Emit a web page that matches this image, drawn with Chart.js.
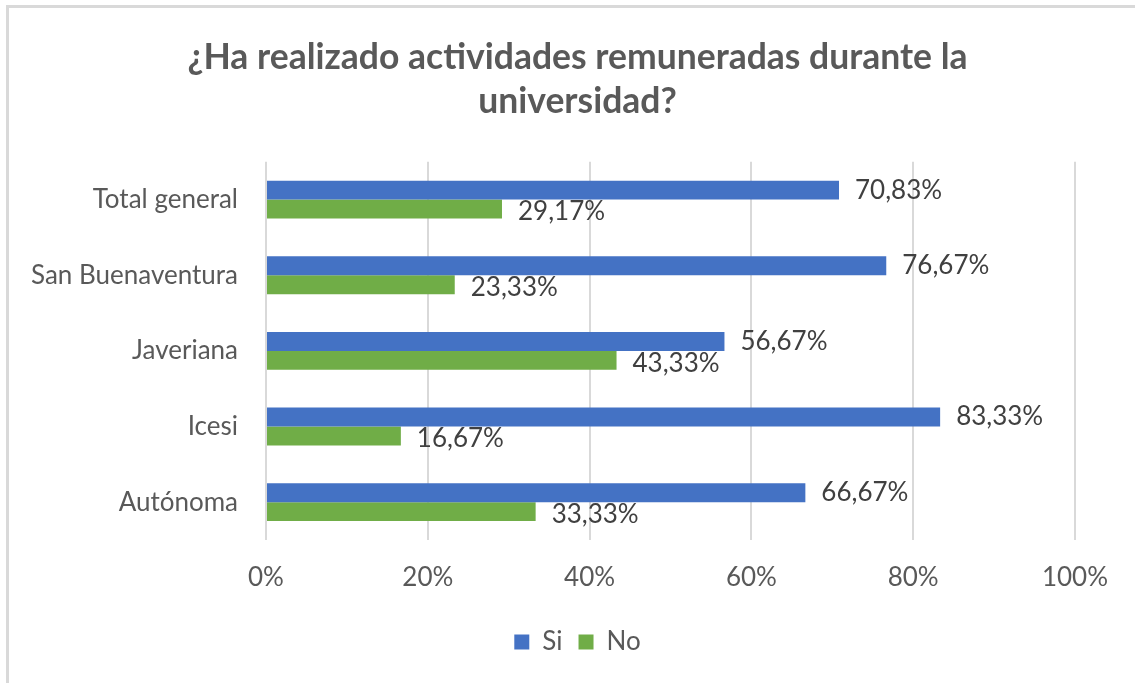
<!DOCTYPE html>
<html lang="es">
<head>
<meta charset="utf-8">
<title>Actividades remuneradas</title>
<script src="https://cdn.jsdelivr.net/npm/chart.js@4/dist/chart.umd.min.js"></script>
<style>
  html, body { margin: 0; padding: 0; background: #fff; }
  .wrap { position: absolute; left: 0; top: 0; width: 1135px; height: 683px; }
  .frame {
    position: absolute; left: 6px; top: 5px; right: 0; bottom: 0;
    border-left: 3px solid #d9d9d9; border-top: 3px solid #d9d9d9;
    pointer-events: none;
  }
</style>
</head>
<body>
<div class="wrap">
  <canvas id="chartRemuneradas" width="1135" height="683"></canvas>
  <div class="frame"></div>
</div>
<script>
// ── Datos ─────────────────────────────────────────
const universidades = ['Total general', 'San Buenaventura', 'Javeriana', 'Icesi', 'Autónoma'];
const valoresSi = [70.83, 76.67, 56.67, 83.33, 66.67];
const valoresNo = [29.17, 23.33, 43.33, 16.67, 33.33];
const ticksX = [0, 20, 40, 60, 80, 100];

const FONT = 'Lato, "Open Sans", sans-serif';
const fmtPct = v => v.toFixed(2).replace('.', ',') + '%';

// ── Etiquetas de datos (al final de cada barra) ───
const etiquetas = {
  id: 'etiquetas',
  afterDatasetsDraw(chart) {
    const ctx = chart.ctx;
    ctx.save();
    ctx.font = '26px ' + FONT;
    ctx.fillStyle = '#404040';
    ctx.textAlign = 'left';
    ctx.textBaseline = 'middle';
    chart.data.datasets.forEach((ds, i) => {
      const meta = chart.getDatasetMeta(i);
      meta.data.forEach((bar, j) => {
        const dy = i === 1 ? 3 : 0;
        ctx.fillText(fmtPct(ds.data[j]), bar.x + 16, bar.y + dy);
      });
    });
    ctx.restore();
  }
};

new Chart(document.getElementById('chartRemuneradas'), {
  type: 'bar',
  data: {
    labels: universidades,
    datasets: [
      { label: 'Si', data: valoresSi, backgroundColor: '#4472C4', borderWidth: 0 },
      { label: 'No', data: valoresNo, backgroundColor: '#70AD47', borderWidth: 0 }
    ]
  },
  options: {
    indexAxis: 'y',
    responsive: false,
    animation: false,
    categoryPercentage: 0.5,
    barPercentage: 1.0,
    layout: { padding: { left: 20, right: 0, top: 0, bottom: 18 } },
    plugins: {
      title: {
        display: true,
        text: ['¿Ha realizado actividades remuneradas durante la', 'universidad?'],
        color: '#595959',
        font: { family: FONT, size: 35.5, weight: 'bold', lineHeight: 1.25 },
        padding: { top: 35, bottom: 38 }
      },
      legend: {
        position: 'bottom',
        labels: {
          color: '#595959',
          font: { family: FONT, size: 26 },
          boxWidth: 15, boxHeight: 15,
          padding: 16
        }
      },
      tooltip: { enabled: false }
    },
    scales: {
      x: {
        min: 0, max: 100,
        afterBuildTicks: s => { s.ticks = ticksX.map(v => ({ value: v })); },
        afterFit: s => { s.height = 73; },
        grid: { color: '#d9d9d9', lineWidth: 2, drawTicks: false },
        border: { display: false },
        ticks: {
          color: '#595959', padding: 22,
          font: { family: FONT, size: 26 },
          callback: v => v + '%'
        }
      },
      y: {
        afterFit: s => { s.width = 246; },
        grid: { display: false, drawTicks: false },
        border: { display: false },
        ticks: {
          color: '#595959', padding: 28,
          font: { family: FONT, size: 26 }
        }
      },
      // eje vacío a la derecha: solo reserva el margen derecho del área
      margenDer: {
        type: 'linear', axis: 'y', position: 'right',
        afterFit: s => { s.width = 60; },
        grid: { display: false, drawTicks: false },
        border: { display: false },
        ticks: { display: false }
      }
    }
  },
  plugins: [etiquetas]
});
</script>
</body>
</html>
